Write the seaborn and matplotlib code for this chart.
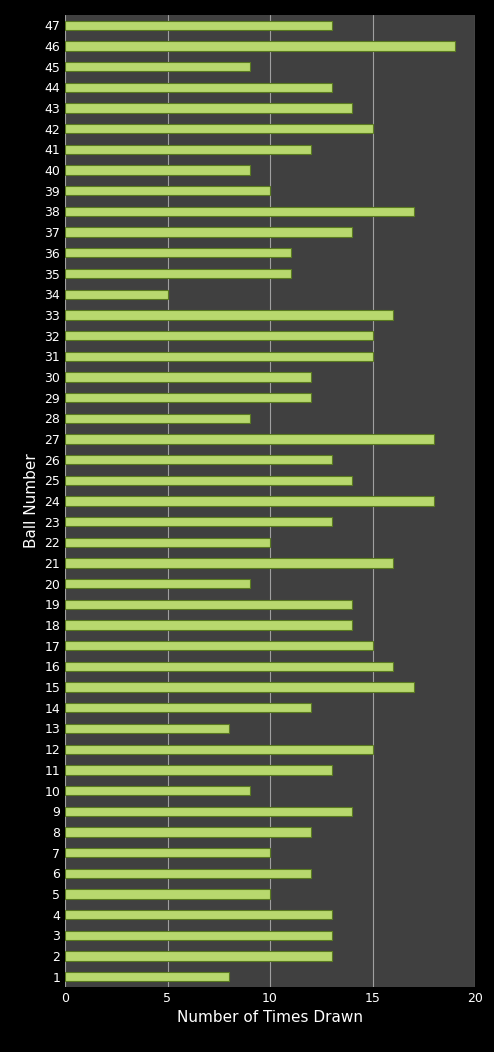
import matplotlib
matplotlib.use("Agg")
import matplotlib.pyplot as plt
import seaborn as sns
import pandas as pd

balls = list(range(1, 48))
times_drawn = [8, 13, 13, 13, 10, 12, 10, 12, 14, 9,
               13, 15, 8, 12, 17, 16, 15, 14, 14, 9,
               16, 10, 13, 18, 14, 13, 18, 9, 12, 12,
               15, 15, 16, 5, 11, 11, 14, 17, 10, 9,
               12, 15, 14, 13, 9, 19, 13]

df = pd.DataFrame({"Ball": [str(b) for b in balls], "Times": times_drawn})
order = [str(b) for b in reversed(balls)]

sns.set_style("dark")
plt.rcParams['font.family'] = ['DejaVu Sans']

fig = plt.figure(figsize=(4.94, 10.52), dpi=100, facecolor="black")
ax = fig.add_axes([65/494, 1 - 987/1052, 410/494, 972/1052])
ax.set_facecolor("#404040")

sns.barplot(data=df, x="Times", y="Ball", order=order, orient="h",
            color="#b8d86e", edgecolor="#5a7a20", linewidth=0.8,
            width=0.45, saturation=1, ax=ax)

ax.set_xlim(0, 20)
ax.set_xticks([0, 5, 10, 15, 20])
ax.grid(axis="x", color="#a0a0a0", linewidth=0.8)
ax.grid(axis="y", visible=False)
ax.set_axisbelow(True)
for s in ax.spines.values():
    s.set_visible(False)
ax.tick_params(colors="white", labelsize=9, length=0)
ax.set_xlabel("Number of Times Drawn", color="white", fontsize=11)
ax.set_ylabel("Ball Number", color="white", fontsize=11)

fig.savefig("out.png", dpi=100, facecolor="black")
